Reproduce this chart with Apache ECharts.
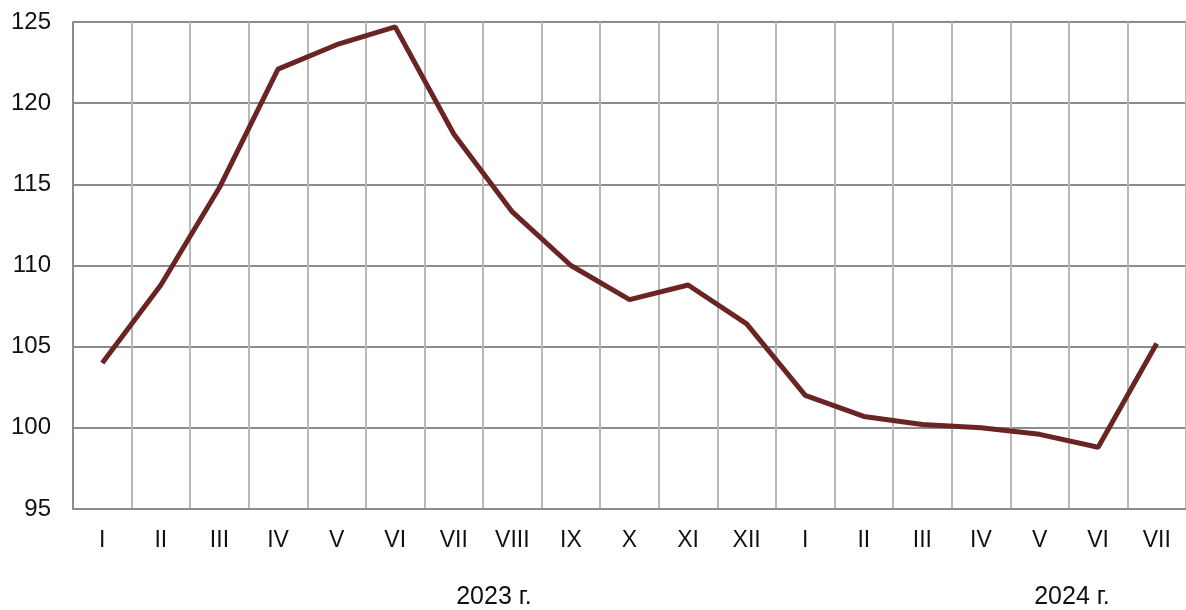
<!DOCTYPE html>
<html><head><meta charset="utf-8">
<script src="https://cdn.jsdelivr.net/npm/echarts@6/dist/echarts.min.js"></script>
<style>html,body{margin:0;padding:0;background:#fff}#c{width:1186px;height:610px}</style>
</head><body><div id="c"></div>
<script>
const categories = ['I','II','III','IV','V','VI','VII','VIII','IX','X','XI','XII','I','II','III','IV','V','VI','VII'];
const values = [104.0,108.8,114.8,122.1,123.6,124.7,118.1,113.3,110.0,107.9,108.8,106.4,102.0,100.7,100.2,100.0,99.6,98.8,105.2];
const yearLabels = ['2023 г.','2024 г.'];
const yMin = 95, yMax = 125, yStep = 5;

const chart = echarts.init(document.getElementById('c'), null, {renderer:'canvas'});
const font = 'Liberation Sans, Arial, sans-serif';
chart.setOption({
  animation:false,
  grid:{left:73,right:0,top:22,bottom:101,containLabel:false},
  xAxis:{type:'category',data:categories,boundaryGap:true,
    axisLine:{show:true,lineStyle:{color:'#8c8c8c',width:2}},
    axisTick:{show:false},
    axisLabel:{color:'#111',fontSize:23,fontFamily:font,margin:20,interval:0},
    splitLine:{show:true,interval:0,lineStyle:{color:'#b8b8b8',width:2}}},
  yAxis:{type:'value',min:yMin,max:yMax,interval:yStep,
    axisLine:{show:true,lineStyle:{color:'#8c8c8c',width:2}},
    axisTick:{show:false},
    axisLabel:{color:'#111',fontSize:24,fontFamily:font,margin:22},
    splitLine:{show:true,lineStyle:{color:'#8c8c8c',width:2}}},
  series:[{type:'line',data:values,symbol:'none',
    lineStyle:{color:'#6b2424',width:5}}],
  graphic:[
    {type:'text',x:494,y:597,style:{text:yearLabels[0],font:'25px '+font,fill:'#111',align:'center',verticalAlign:'middle'}},
    {type:'text',x:1072,y:597,style:{text:yearLabels[1],font:'25px '+font,fill:'#111',align:'center',verticalAlign:'middle'}}
  ]
});
</script></body></html>
